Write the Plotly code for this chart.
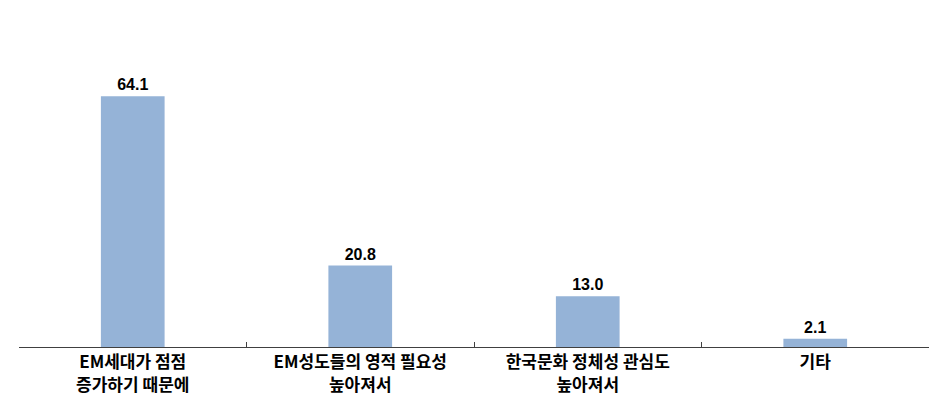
import plotly.graph_objects as go

categories = [
    "EM세대가 점점<br>증가하기 때문에",
    "EM성도들의 영적 필요성<br>높아져서",
    "한국문화 정체성 관심도<br>높아져서",
    "기타",
]
values = [64.1, 20.8, 13.0, 2.1]
value_labels = ["64.1", "20.8", "13.0", "2.1"]

fig = go.Figure(
    go.Bar(
        x=categories,
        y=values,
        text=value_labels,
        textposition="outside",
        textfont=dict(family="Liberation Sans", size=16, color="black", weight="bold"),
        marker=dict(color="#95b3d7", line=dict(width=0)),
        cliponaxis=False,
    )
)

# page body has an 8px margin, so the figure is a bit smaller than the window
fig.update_layout(
    width=938,
    height=396,
    margin=dict(l=11, r=17, t=26, b=57),
    paper_bgcolor="white",
    plot_bgcolor="white",
    bargap=0.72,
    showlegend=False,
)
fig.update_xaxes(
    showline=True,
    linecolor="#404040",
    linewidth=1,
    ticks="inside",
    tickson="boundaries",
    ticklen=5,
    tickcolor="#404040",
    tickfont=dict(family="Noto Sans CJK KR", size=17, color="black", weight="bold"),
    showgrid=False,
    automargin=False,
)
fig.update_yaxes(range=[0, 80], visible=False, showgrid=False)

fig.write_html("out.html")
